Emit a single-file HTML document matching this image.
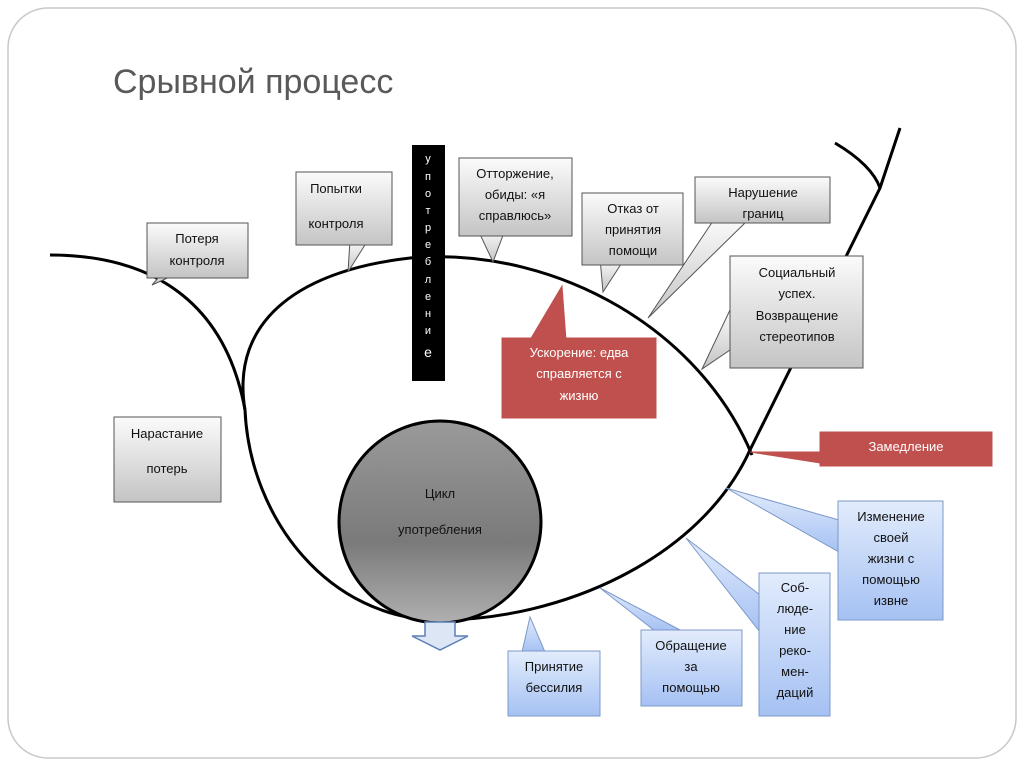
<!DOCTYPE html>
<html><head><meta charset="utf-8"><style>
html,body{margin:0;padding:0;background:#fff;}
svg{display:block;font-family:"Liberation Sans","DejaVu Sans",sans-serif;}
</style></head><body>
<svg width="1024" height="768" viewBox="0 0 1024 768" xmlns="http://www.w3.org/2000/svg">
<defs>
<linearGradient id="gr" x1="0" y1="0" x2="0" y2="1"><stop offset="0" stop-color="#fbfbfb"/><stop offset="1" stop-color="#c4c4c4"/></linearGradient>
<linearGradient id="bl" x1="0" y1="0" x2="0" y2="1"><stop offset="0" stop-color="#e2ecfc"/><stop offset="1" stop-color="#a5c1f3"/></linearGradient>
<linearGradient id="ci" x1="0" y1="0" x2="0" y2="1"><stop offset="0" stop-color="#9a9a9a"/><stop offset="0.6" stop-color="#7a7a7a"/><stop offset="1" stop-color="#b0b0b0"/></linearGradient>
</defs>
<rect x="8" y="8" width="1008" height="750" rx="40" fill="#fff" stroke="#c8c8c8" stroke-width="1.5"/>
<text x="113" y="93" font-size="34" fill="#595959">Срывной процесс</text>

<g fill="none" stroke="#000" stroke-width="3">
<path d="M50,255 C150,255 225,300 245,410"/>
<path d="M245,410 C230,320 300,268 420,257 C560,250 700,330 752,455"/>
<path d="M900,128 L880,188 L750,450 C700,560 560,620 440,620 C330,620 250,520 245,410"/>
<path d="M835,143 Q872,165 880,188"/>
</g>

<circle cx="440" cy="522" r="101" fill="url(#ci)" stroke="#000" stroke-width="3"/>
<text x="440" y="498" font-size="13" text-anchor="middle" fill="#111">Цикл</text>
<text x="440" y="534" font-size="13" text-anchor="middle" fill="#111">употребления</text>
<path d="M425,622 L455,622 L455,636 L468,636 L440,650 L412,636 L425,636 Z" fill="#dce6f5" stroke="#5b7fb6" stroke-width="1.5"/>

<rect x="412" y="145" width="33" height="236" fill="#000"/>
<g fill="#fff" font-size="11" text-anchor="middle">
<text x="428" y="162">у</text><text x="428" y="180">п</text><text x="428" y="197">о</text><text x="428" y="214">т</text><text x="428" y="231">р</text><text x="428" y="248">е</text><text x="428" y="265">б</text><text x="428" y="283">л</text><text x="428" y="300">е</text><text x="428" y="317">н</text><text x="428" y="334">и</text><text x="428" y="357" font-size="14">е</text>
</g>

<g stroke="#555" stroke-width="1" fill="url(#gr)">
<polygon points="165,270 185,270 152,285"/>
<rect x="147" y="223" width="101" height="55"/>
<polygon points="350,240 368,240 348,272"/>
<rect x="296" y="172" width="96" height="73"/>
<polygon points="478,230 505,230 493,262"/>
<rect x="459" y="158" width="113" height="78"/>
<polygon points="600,258 625,258 603,292"/>
<rect x="582" y="193" width="101" height="72"/>
<polygon points="715,218 750,218 648,318"/>
<rect x="695" y="177" width="135" height="46"/>
<polygon points="730,310 730,350 702,369"/>
<rect x="730" y="256" width="133" height="112"/>
<rect x="114" y="417" width="107" height="85"/>
</g>
<g font-size="13" fill="#111" text-anchor="middle">
<text x="197" y="243">Потеря</text><text x="197" y="265">контроля</text>
<text x="336" y="193">Попытки</text><text x="336" y="228">контроля</text>
<text x="515" y="178">Отторжение,</text><text x="515" y="199">обиды: «я</text><text x="515" y="220">справлюсь»</text>
<text x="633" y="213">Отказ от</text><text x="633" y="234">принятия</text><text x="633" y="255">помощи</text>
<text x="763" y="197">Нарушение</text><text x="763" y="218">границ</text>
<text x="797" y="277">Социальный</text><text x="797" y="298">успех.</text><text x="797" y="320">Возвращение</text><text x="797" y="341">стереотипов</text>
<text x="167" y="438">Нарастание</text><text x="167" y="473">потерь</text>
</g>

<g fill="#c0504d" stroke="#c0504d">
<polygon points="530,340 562,286 566,340"/>
<rect x="502" y="338" width="154" height="80"/>
<polygon points="825,452 820,463 750,452"/>
<rect x="820" y="432" width="172" height="34"/>
</g>
<g font-size="13" fill="#fff" text-anchor="middle">
<text x="579" y="357">Ускорение: едва</text><text x="579" y="378">справляется с</text><text x="579" y="400">жизню</text>
<text x="906" y="451">Замедление</text>
</g>

<g stroke="#7d99c8" stroke-width="1" fill="url(#bl)">
<polygon points="522,652 545,652 530,617"/>
<rect x="508" y="651" width="92" height="65"/>
<polygon points="655,631 682,631 600,588"/>
<rect x="641" y="630" width="101" height="76"/>
<polygon points="760,595 760,632 686,538"/>
<rect x="759" y="573" width="71" height="143"/>
<polygon points="839,520 839,552 726,488"/>
<rect x="838" y="501" width="105" height="119"/>
</g>
<g font-size="13" fill="#111" text-anchor="middle">
<text x="554" y="671">Принятие</text><text x="554" y="692">бессилия</text>
<text x="691" y="650">Обращение</text><text x="691" y="671">за</text><text x="691" y="692">помощью</text>
<text x="795" y="592">Соб-</text><text x="795" y="613">люде-</text><text x="795" y="634">ние</text><text x="795" y="655">реко-</text><text x="795" y="676">мен-</text><text x="795" y="697">даций</text>
<text x="891" y="521">Изменение</text><text x="891" y="542">своей</text><text x="891" y="563">жизни с</text><text x="891" y="584">помощью</text><text x="891" y="605">извне</text>
</g>
</svg>
</body></html>
